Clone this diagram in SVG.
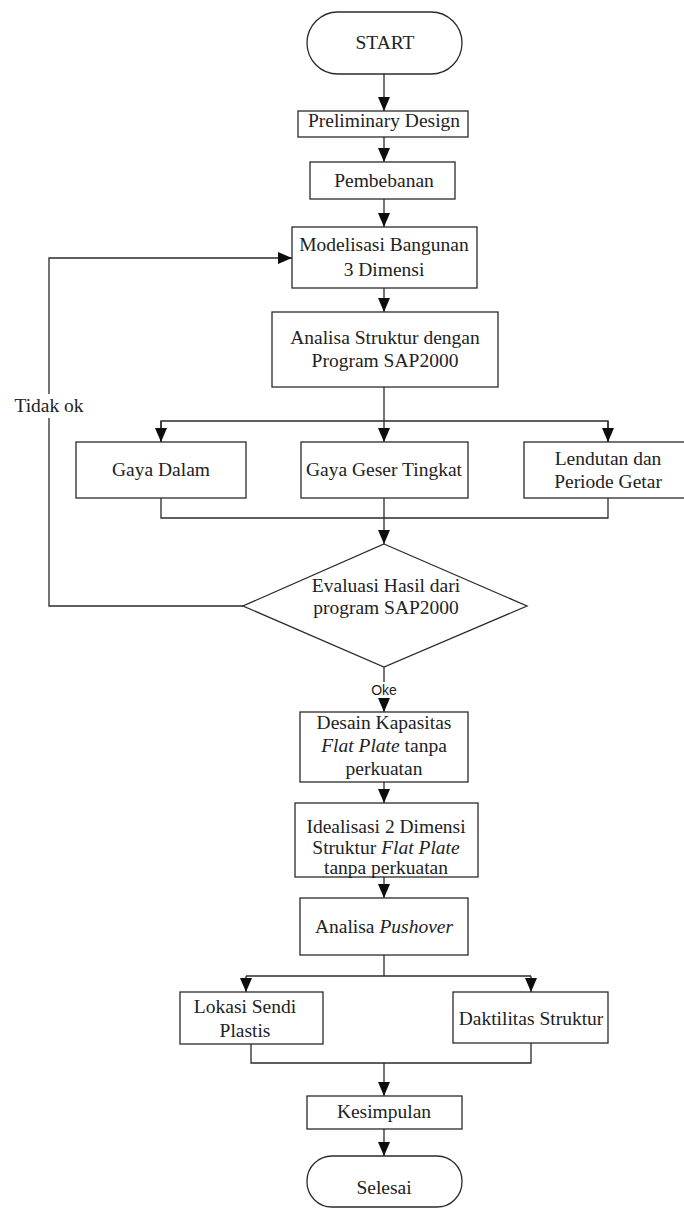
<svg xmlns="http://www.w3.org/2000/svg" width="684" height="1211" viewBox="0 0 684 1211">
  <style>
    .box { fill: #ffffff; stroke: #2a2a2a; stroke-width: 1.3; }
    .wire { fill: none; stroke: #2a2a2a; stroke-width: 1.3; }
    .lbl { font-family: "Liberation Serif", "Times New Roman", serif; font-size: 19.5px; fill: #222222; text-anchor: middle; }
    .it { font-style: italic; }
    .tag { font-family: "Liberation Sans", Arial, sans-serif; font-size: 14px; fill: #222222; text-anchor: middle; }
  </style>
  <defs>
    <marker id="arrow" viewBox="0 0 14 12" refX="14" refY="6" markerWidth="14" markerHeight="12" markerUnits="userSpaceOnUse" orient="auto">
      <path d="M0,0 L14,6 L0,12 Z" fill="#0d0d0d"/>
    </marker>
  </defs>

  <rect width="684" height="1211" fill="#ffffff"/>

  <!-- connectors -->
  <g id="connectors">
    <line class="wire" x1="384" y1="74" x2="384" y2="111" marker-end="url(#arrow)"/>
    <line class="wire" x1="384" y1="137" x2="384" y2="162" marker-end="url(#arrow)"/>
    <line class="wire" x1="384" y1="199" x2="384" y2="227" marker-end="url(#arrow)"/>
    <line class="wire" x1="384" y1="288" x2="384" y2="312" marker-end="url(#arrow)"/>
    <!-- fan-out to the three result boxes -->
    <polyline class="wire" points="384,387 384,421"/>
    <polyline class="wire" points="161,442 161,421 608,421 608,442"/>
    <line class="wire" x1="161" y1="421" x2="161" y2="442" marker-end="url(#arrow)"/>
    <line class="wire" x1="384" y1="421" x2="384" y2="442" marker-end="url(#arrow)"/>
    <line class="wire" x1="608" y1="421" x2="608" y2="442" marker-end="url(#arrow)"/>
    <!-- merge into the decision -->
    <polyline class="wire" points="161,498 161,518 608,518 608,498"/>
    <line class="wire" x1="384" y1="498" x2="384" y2="544" marker-end="url(#arrow)"/>
    <!-- "Tidak ok" loop back -->
    <polyline class="wire" points="243,606 49,606 49,258 292,258" marker-end="url(#arrow)"/>
    <rect x="12" y="394" width="74" height="24" fill="#ffffff"/>
    <text class="lbl" x="49" y="412">Tidak ok</text>
    <!-- "Oke" path -->
    <line class="wire" x1="384" y1="667" x2="384" y2="712" marker-end="url(#arrow)"/>
    <rect x="368" y="682" width="32" height="16" fill="#ffffff"/>
    <text class="tag" x="384" y="695">Oke</text>
    <line class="wire" x1="384" y1="782" x2="384" y2="803" marker-end="url(#arrow)"/>
    <line class="wire" x1="384" y1="877" x2="384" y2="898" marker-end="url(#arrow)"/>
    <!-- split after pushover -->
    <polyline class="wire" points="384,955 384,976"/>
    <polyline class="wire" points="246,976 531,976"/>
    <line class="wire" x1="246" y1="976" x2="246" y2="992" marker-end="url(#arrow)"/>
    <line class="wire" x1="531" y1="976" x2="531" y2="992" marker-end="url(#arrow)"/>
    <!-- merge into conclusion -->
    <polyline class="wire" points="251,1044 251,1063 531,1063 531,1043"/>
    <line class="wire" x1="384" y1="1063" x2="384" y2="1096" marker-end="url(#arrow)"/>
    <line class="wire" x1="384" y1="1129" x2="384" y2="1156" marker-end="url(#arrow)"/>
  </g>

  <g id="start">
    <rect class="box" x="307" y="12" width="155" height="62" rx="31" ry="31"/>
    <text class="lbl" x="385" y="49">START</text>
  </g>

  <g id="preliminary">
    <rect class="box" x="298" y="111" width="170" height="26"/>
    <text class="lbl" x="384" y="127">Preliminary Design</text>
  </g>

  <g id="pembebanan">
    <rect class="box" x="310" y="162" width="145" height="37"/>
    <text class="lbl" x="384" y="187">Pembebanan</text>
  </g>

  <g id="modelisasi">
    <rect class="box" x="292" y="227" width="185" height="61"/>
    <text class="lbl" x="384" y="251">Modelisasi Bangunan</text>
    <text class="lbl" x="384" y="276">3 Dimensi</text>
  </g>

  <g id="analisa-struktur">
    <rect class="box" x="272" y="312" width="226" height="75"/>
    <text class="lbl" x="385" y="344">Analisa Struktur dengan</text>
    <text class="lbl" x="385" y="367">Program SAP2000</text>
  </g>

  <g id="gaya-dalam">
    <rect class="box" x="76" y="442" width="170" height="56"/>
    <text class="lbl" x="161" y="476">Gaya Dalam</text>
  </g>

  <g id="gaya-geser">
    <rect class="box" x="301" y="442" width="167" height="56"/>
    <text class="lbl" x="384" y="476">Gaya Geser Tingkat</text>
  </g>

  <g id="lendutan">
    <rect class="box" x="524" y="442" width="164" height="56"/>
    <text class="lbl" x="608" y="465">Lendutan dan</text>
    <text class="lbl" x="608" y="488">Periode Getar</text>
  </g>

  <g id="evaluasi">
    <polygon class="box" points="384,544 527,606 384,667 243,606"/>
    <text class="lbl" x="386" y="592">Evaluasi Hasil dari</text>
    <text class="lbl" x="386" y="614">program SAP2000</text>
  </g>

  <g id="desain-kapasitas">
    <rect class="box" x="300" y="712" width="168" height="70"/>
    <text class="lbl" x="384" y="729">Desain Kapasitas</text>
    <text class="lbl" x="384" y="752"><tspan class="it">Flat Plate</tspan> tanpa</text>
    <text class="lbl" x="384" y="775">perkuatan</text>
  </g>

  <g id="idealisasi">
    <rect class="box" x="295" y="803" width="183" height="74"/>
    <text class="lbl" x="386" y="833">Idealisasi 2 Dimensi</text>
    <text class="lbl" x="386" y="854">Struktur <tspan class="it">Flat Plate</tspan></text>
    <text class="lbl" x="386" y="874">tanpa perkuatan</text>
  </g>

  <g id="pushover">
    <rect class="box" x="300" y="898" width="168" height="57"/>
    <text class="lbl" x="384" y="933">Analisa <tspan class="it">Pushover</tspan></text>
  </g>

  <g id="sendi-plastis">
    <rect class="box" x="180" y="992" width="143" height="52"/>
    <text class="lbl" x="245" y="1013">Lokasi Sendi</text>
    <text class="lbl" x="245" y="1037">Plastis</text>
  </g>

  <g id="daktilitas">
    <rect class="box" x="453" y="992" width="155" height="51"/>
    <text class="lbl" x="531" y="1025">Daktilitas Struktur</text>
  </g>

  <g id="kesimpulan">
    <rect class="box" x="307" y="1096" width="155" height="33"/>
    <text class="lbl" x="384" y="1118">Kesimpulan</text>
  </g>

  <g id="selesai">
    <rect class="box" x="307" y="1156" width="155" height="51" rx="25" ry="25"/>
    <text class="lbl" x="384" y="1194">Selesai</text>
  </g>
</svg>
